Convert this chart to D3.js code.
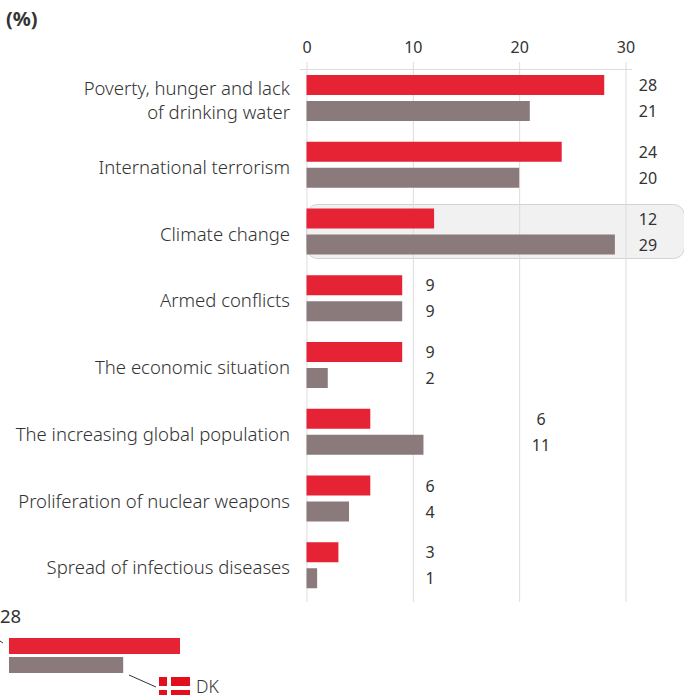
<!DOCTYPE html>
<html>
<head>
<meta charset="utf-8">
<script src="https://cdn.jsdelivr.net/npm/d3@7"></script>
<style>
  html, body { margin: 0; padding: 0; background: #fff; }
  svg { display: block; font-family: "Noto Sans", sans-serif; }
  text { fill: #333; }
</style>
</head>
<body>
<svg id="chart" width="684" height="695"></svg>
<script>
const categories = [
  ["Poverty, hunger and lack", "of drinking water"],
  ["International terrorism"],
  ["Climate change"],
  ["Armed conflicts"],
  ["The economic situation"],
  ["The increasing global population"],
  ["Proliferation of nuclear weapons"],
  ["Spread of infectious diseases"],
];
const euValues = [28, 24, 12, 9, 9, 6, 6, 3];
const dkValues = [21, 20, 29, 9, 2, 11, 4, 1];
const xTicks = [0, 10, 20, 30];
const legendValues = [28, 18.7];
const highlighted = "Climate change";

const RED = "#e62235", GREY = "#8a7a7c";
const svg = d3.select("#chart");

const x = d3.scaleLinear().domain([0, 30]).range([306.5, 625.5]);
const y = d3.scaleBand().domain(d3.range(categories.length)).range([66, 600]).padding(0);

// highlighted row sits behind the grid
const hi = categories.findIndex((c) => c[0] === highlighted);
svg.append("rect")
  .attr("x", x(0))
  .attr("y", y(hi) + 5)
  .attr("width", 378)
  .attr("height", 54)
  .attr("rx", 11)
  .attr("fill", "#f1f1f1")
  .attr("stroke", "#d6d2d2")
  .attr("stroke-width", 1);

const axis = svg.append("g")
  .attr("transform", "translate(0,602)")
  .call(d3.axisTop(x).tickValues(xTicks).tickSize(540).tickPadding(9));
axis.select(".domain").remove();
axis.selectAll("line").attr("stroke", "#dcdcdc");
axis.selectAll("text")
  .attr("font-size", 16)
  .attr("font-family", "Noto Sans")
  .attr("fill", "#333");
svg.append("line")
  .attr("x1", 300).attr("x2", 632)
  .attr("y1", 69.5).attr("y2", 69.5)
  .attr("stroke", "#dcdcdc");

const rows = svg.selectAll("g.row")
  .data(categories)
  .join("g")
  .attr("class", "row")
  .attr("transform", (d, i) => `translate(0,${y(i)})`);

rows.append("rect")
  .attr("x", x(0)).attr("y", 9)
  .attr("width", (d, i) => x(euValues[i]) - x(0))
  .attr("height", 20)
  .attr("fill", RED);
rows.append("rect")
  .attr("x", x(0)).attr("y", 35)
  .attr("width", (d, i) => x(dkValues[i]) - x(0))
  .attr("height", 20)
  .attr("fill", GREY);

const labels = rows.append("text")
  .attr("text-anchor", "end")
  .attr("font-size", 18.5)
  .attr("font-weight", 300);
labels.selectAll("tspan")
  .data((d) => d)
  .join("tspan")
  .attr("x", 290)
  .attr("y", (d, i, n) => 41 + (i - (n.length - 1) / 2) * 24)
  .text((d) => d);

// value columns move with the longest bars
const valueX = [648, 648, 648, 430, 430, 541, 430, 430];
rows.append("text")
  .attr("x", (d, i) => valueX[i]).attr("y", 25)
  .attr("text-anchor", "middle").attr("font-size", 16)
  .text((d, i) => euValues[i]);
rows.append("text")
  .attr("x", (d, i) => valueX[i]).attr("y", 51)
  .attr("text-anchor", "middle").attr("font-size", 16)
  .text((d, i) => dkValues[i]);

svg.append("text").attr("x", 6).attr("y", 26)
  .attr("font-size", 20).attr("font-weight", 700).text("(%)");

// legend
const lx = d3.scaleLinear().domain([0, 28]).range([9, 180]);
svg.append("text").attr("x", 0).attr("y", 623).attr("font-size", 18.5).text(legendValues[0]);
svg.append("rect").attr("x", lx(0)).attr("y", 638).attr("width", lx(legendValues[0]) - lx(0)).attr("height", 16).attr("fill", RED);
svg.append("rect").attr("x", lx(0)).attr("y", 657).attr("width", lx(legendValues[1]) - lx(0)).attr("height", 16).attr("fill", GREY);
svg.append("line").attr("x1", 129).attr("y1", 675).attr("x2", 156).attr("y2", 687).attr("stroke", "#333");
svg.append("line").attr("x1", 0).attr("y1", 641).attr("x2", 3).attr("y2", 643).attr("stroke", "#333");
const flag = svg.append("g");
[[159, 677, 8, 9], [171, 677, 19, 9], [159, 690, 8, 9], [171, 690, 19, 9]].forEach(([a, b, w, h]) => {
  flag.append("rect").attr("x", a).attr("y", b).attr("width", w).attr("height", h).attr("fill", "#e2101c");
});
svg.append("text").attr("x", 196).attr("y", 693).attr("font-size", 17.5).attr("font-weight", 300).text("DK");
</script>
</body>
</html>
